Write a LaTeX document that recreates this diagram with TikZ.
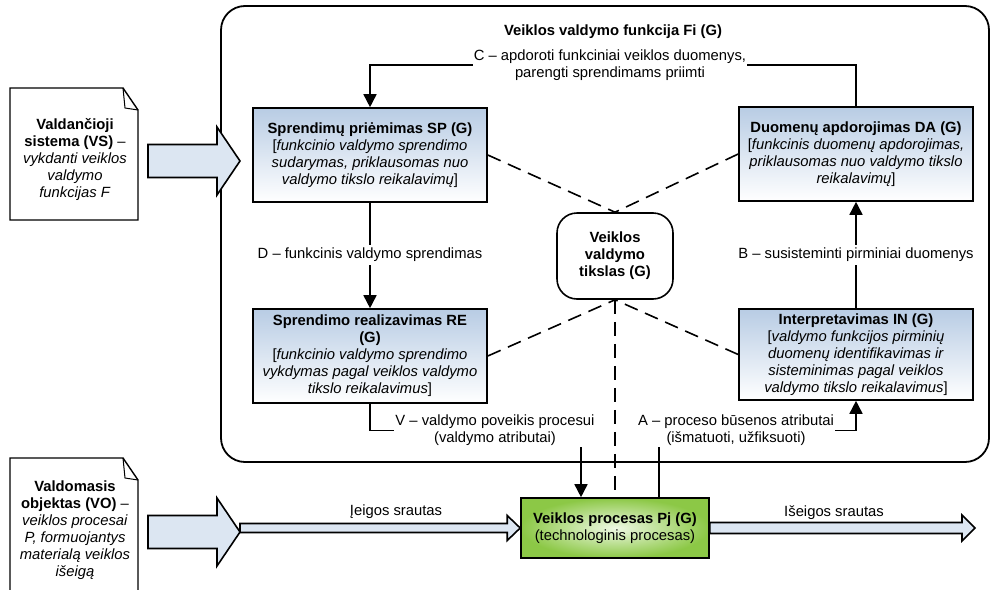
\documentclass[tikz,border=0pt]{standalone}
\usepackage{fontspec}
\setmainfont{Liberation Sans}
\usetikzlibrary{positioning, arrows.meta, calc}

\definecolor{boxblue}{RGB}{184,204,228}
\definecolor{flowblue}{RGB}{220,230,242}
\definecolor{procgreen}{RGB}{140,200,70}
\definecolor{proclight}{RGB}{238,248,228}

\begin{document}
\begin{tikzpicture}[
    x=1pt, y=-1pt,
    font=\fontsize{14.8}{17}\selectfont,
    func/.style={rectangle, draw, line width=1.6pt, top color=boxblue, bottom color=white, minimum width=234pt, minimum height=94pt, align=center, inner sep=2pt},
    goal/.style={rectangle, draw, line width=1.6pt, rounded corners=20pt, minimum width=116pt, minimum height=86pt, align=center, font=\fontsize{14.8}{17}\selectfont\bfseries},
    proc/.style={rectangle, draw, line width=1.6pt, inner color=proclight, outer color=procgreen, minimum width=188pt, minimum height=60pt, align=center},
    lbl/.style={align=center, inner sep=1pt},
    arrow/.style={->, >={Triangle[width=13pt,length=13pt]}, line width=1.6pt},
    link/.style={line width=1.6pt},
    aim/.style={line width=1.6pt, dash pattern=on 14pt off 8pt},
    bigflow/.style={draw, line width=1.6pt, fill=flowblue, line join=miter},
    paper/.style={draw, line width=1.4pt, fill=white}
]
    \useasboundingbox (0,0) rectangle (992,589);

    % function frame
    \draw[line width=1.8pt, rounded corners=24pt] (221,6) rectangle (989,462);
    \node[font=\fontsize{14.8}{17}\selectfont\bfseries] (title) at (613,32) {Veiklos valdymo funkcija Fi (G)};

    % function steps
    \node[func] (sp) at (370,155) {\textbf{Sprendimų priėmimas SP (G)}\\{[}\textit{funkcinio valdymo sprendimo}\\\textit{sudarymas, priklausomas nuo}\\\textit{valdymo tikslo reikalavimų}]};
    \node[func] (da) at (856,154) {\textbf{Duomenų apdorojimas DA (G)}\\{[}\textit{funkcinis duomenų apdorojimas,}\\\textit{priklausomas nuo valdymo tikslo}\\\textit{reikalavimų}]};
    \node[func] (re) at (370,356) {\textbf{Sprendimo realizavimas RE}\\\textbf{(G)}\\{[}\textit{funkcinio valdymo sprendimo}\\\textit{vykdymas pagal veiklos valdymo}\\\textit{tikslo reikalavimus}]};
    \node[func, minimum height=91pt] (in) at (856,354.5) {\textbf{Interpretavimas IN (G)}\\{[}\textit{valdymo funkcijos pirminių}\\\textit{duomenų identifikavimas ir}\\\textit{sisteminimas pagal veiklos}\\\textit{valdymo tikslo reikalavimus}]};
    \node[goal] (goal) at (615,256) {Veiklos\\valdymo\\tikslas (G)};
    \node[proc] (pj) at (615,528) {\textbf{Veiklos procesas Pj (G)}\\(technologinis procesas)};

    % flow labels
    \node[lbl] (clbl) at (610,65) {C – apdoroti funkciniai veiklos duomenys,\\parengti sprendimams priimti};
    \node[lbl, inner sep=3pt] (dlbl) at (370,255) {D – funkcinis valdymo sprendimas};
    \node[lbl, inner sep=3pt] (blbl) at (856,255) {B – susisteminti pirminiai duomenys};
    \node[lbl] (vlbl) at (495,430.5) {V – valdymo poveikis procesui\\(valdymo atributai)};
    \node[lbl] (albl) at (736,430.5) {A – proceso būsenos atributai\\(išmatuoti, užfiksuoti)};
    \coordinate (vin) at ($(pj.north)+(-34,0)$);
    \coordinate (ain) at ($(pj.north)+(44,0)$);

    % control loop
    \draw[link] (da.north) |- (clbl.east);
    \draw[arrow] (clbl.west) -| (sp.north);
    \draw[link] (sp.south) -- (dlbl.north);
    \draw[arrow] (dlbl.south) -- (re.north);
    \draw[link] (re.south) |- (vlbl.west);
    \draw[arrow] (vlbl.south -| vin) -- (vin);
    \draw[link] (ain) -- (albl.south -| ain);
    \draw[arrow] (albl.east) -| (in.south);
    \draw[link] (in.north) -- (blbl.south);
    \draw[arrow] (blbl.north) -- (da.south);

    % goal links
    \draw[aim] (sp.east) -- (goal.north);
    \draw[aim] (da.west) -- (goal.north);
    \draw[aim] (re.east) -- (goal.south);
    \draw[aim] (in.west) -- (goal.south);
    \draw[aim] (goal.south) -- (pj.north);

    % controlling and controlled systems
    \filldraw[paper] (10,88) -- (123,88) -- (138,110) -- (138,220) -- (10,220) -- cycle;
    \draw[line width=1pt] (123,88) -- (125,108) -- (138,110);
    \node[align=center] (vs) at (75,160) {\textbf{Valdančioji}\\\textbf{sistema (VS)} –\\\textit{vykdanti veiklos}\\\textit{valdymo}\\\textit{funkcijas F}};
    \filldraw[paper] (10,458) -- (123,458) -- (138,480) -- (138,600) -- (10,600) -- cycle;
    \draw[line width=1pt] (123,458) -- (125,478) -- (138,480);
    \node[align=center] (vo) at (75,530) {\textbf{Valdomasis}\\\textbf{objektas (VO)} –\\\textit{veiklos procesai}\\\textit{P, formuojantys}\\\textit{materialą veiklos}\\\textit{išeigą}};

    \filldraw[bigflow] (148,144.5) -- (217,144.5) -- (217,127) -- (240,161) -- (217,195) -- (217,177.5) -- (148,177.5) -- cycle;
    \filldraw[bigflow] (148,515.5) -- (217,515.5) -- (217,498) -- (240,532) -- (217,566) -- (217,548.5) -- (148,548.5) -- cycle;

    % input and output flows
    \filldraw[bigflow] (240,523.5) -- ($(pj.west)+(-13,-4.5)$) -- ($(pj.west)+(-13,-12.5)$) -- (pj.west) -- ($(pj.west)+(-13,12.5)$) -- ($(pj.west)+(-13,4.5)$) -- (240,532.5) -- cycle;
    \filldraw[bigflow] ($(pj.east)+(0,-5.5)$) -- (962,522.5) -- (962,515) -- (975,528) -- (962,541) -- (962,533.5) -- ($(pj.east)+(0,5.5)$) -- cycle;
    \node (inlbl) at (396,512) {Įeigos srautas};
    \node (outlbl) at (834,513) {Išeigos srautas};
\end{tikzpicture}
\end{document}
